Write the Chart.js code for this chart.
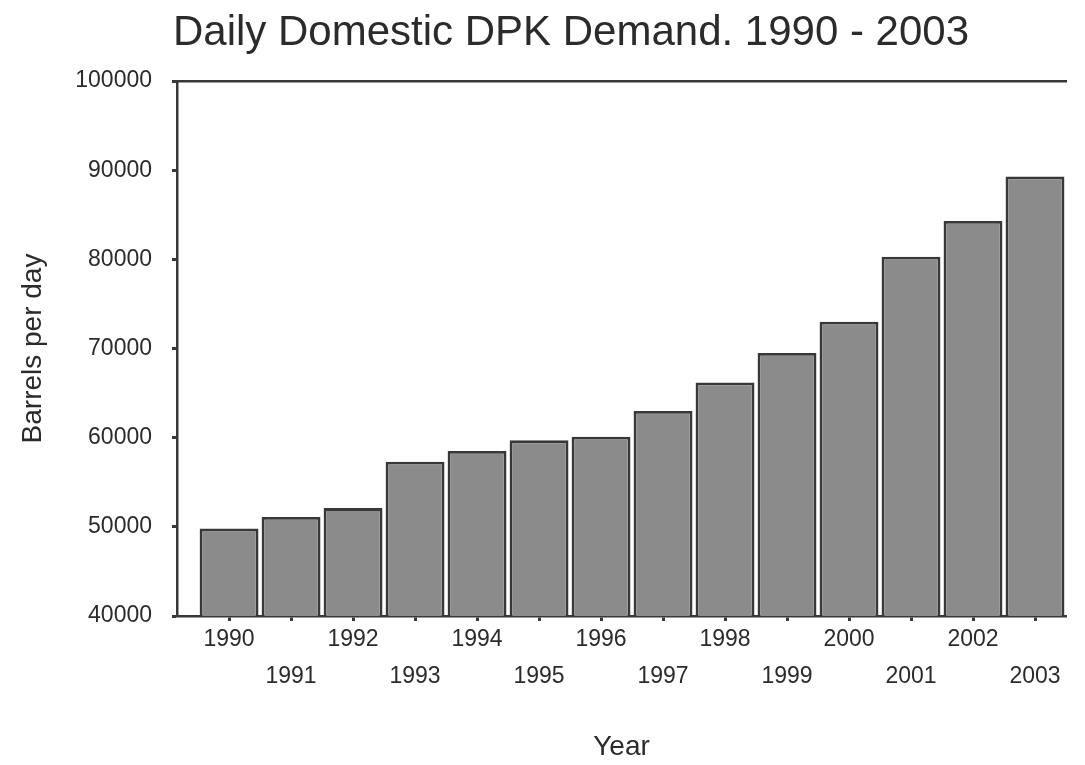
<!DOCTYPE html>
<html>
<head>
<meta charset="utf-8">
<title>Daily Domestic DPK Demand. 1990 - 2003</title>
<script src="https://cdn.jsdelivr.net/npm/chart.js@4/dist/chart.umd.min.js"></script>
<style>
  html, body { margin: 0; padding: 0; background: #ffffff; }
  #wrap { width: 1085px; height: 765px; }
</style>
</head>
<body>
<div id="wrap"><canvas id="chart" width="1085" height="765"></canvas></div>
<script>
// Daily domestic DPK (dual purpose kerosene) demand, barrels per day
const years = [1990, 1991, 1992, 1993, 1994, 1995, 1996, 1997, 1998, 1999, 2000, 2001, 2002, 2003];
const barrelsPerDay = [49800, 51100, 52100, 57300, 58500, 59700, 60100, 63000, 66200, 69500, 73000, 80300, 84300, 89300];
const yTicks = [40000, 50000, 60000, 70000, 80000, 90000, 100000];

const chartTitle = 'Daily Domestic DPK Demand. 1990 - 2003';
const xTitle = 'Year';
const yTitle = 'Barrels per day';

const FONT = '"Liberation Sans", Arial, Helvetica, sans-serif';
const INK = '#2b2b2b';
const AXIS = '#383838';

const points = years.map((yr, i) => ({ x: yr, y: barrelsPerDay[i] }));

// Heading centred over the plot frame
const headingPlugin = {
  id: 'heading',
  afterDraw(chart) {
    const ctx = chart.ctx;
    ctx.save();
    ctx.font = '42px ' + FONT;
    ctx.fillStyle = INK;
    ctx.textAlign = 'center';
    ctx.textBaseline = 'alphabetic';
    ctx.fillText(chartTitle, 571, 45);
    ctx.restore();
  }
};

new Chart(document.getElementById('chart'), {
  type: 'bar',
  data: {
    datasets: [{
      data: points,
      backgroundColor: '#8b8b8b',
      borderColor: '#383838',
      borderWidth: 2.8,
      categoryPercentage: 1.0,
      barPercentage: 0.95
    }]
  },
  options: {
    responsive: false,
    animation: false,
    layout: { padding: { top: 81, right: 19, bottom: 0, left: 0 } },
    plugins: {
      legend: { display: false },
      title: { display: false },
      tooltip: { enabled: false }
    },
    scales: {
      x: {
        type: 'linear',
        position: 'bottom',
        offset: false,
        min: 1989.16,
        max: 2003.5,
        afterFit(scale) { scale.height = 149; },
        border: { display: true, color: AXIS, width: 2.5 },
        grid: { offset: false, drawOnChartArea: false, drawTicks: true, tickLength: 5, tickColor: AXIS, tickWidth: 3 },
        ticks: {
          stepSize: 1,
          includeBounds: false,
          autoSkip: false,
          maxRotation: 0,
          padding: 0,
          color: INK,
          font: { family: FONT, size: 23, lineHeight: 1.61 },
          // even years on the first row, odd years on the second
          callback(value) {
            const label = String(value);
            return value % 2 === 0 ? label : ['', label];
          }
        },
        title: {
          display: true,
          text: xTitle,
          color: INK,
          font: { family: FONT, size: 28 },
          padding: { top: 0, bottom: 1 }
        }
      },
      xTop: {
        type: 'linear',
        position: 'top',
        offset: false,
        min: 1989.16,
        max: 2003.5,
        afterFit(scale) { scale.height = 0; },
        border: { display: true, color: AXIS, width: 2.5 },
        grid: { display: true, offset: false, drawOnChartArea: false, drawTicks: false },
        ticks: { display: false }
      },
      y: {
        type: 'linear',
        position: 'left',
        min: 40000,
        max: 100000,
        afterFit(scale) { scale.width = 177; },
        afterBuildTicks(scale) { scale.ticks = yTicks.map(v => ({ value: v })); },
        border: { display: true, color: AXIS, width: 2.5 },
        grid: { drawOnChartArea: false, drawTicks: true, tickLength: 5, tickColor: AXIS, tickWidth: 3 },
        ticks: {
          padding: 20,
          color: INK,
          font: { family: FONT, size: 23 },
          callback(value) { return String(value); }
        },
        title: {
          display: true,
          text: yTitle,
          color: INK,
          font: { family: FONT, size: 28 },
          padding: { top: 16, bottom: 0 }
        }
      }
    }
  },
  plugins: [headingPlugin]
});
</script>
</body>
</html>
